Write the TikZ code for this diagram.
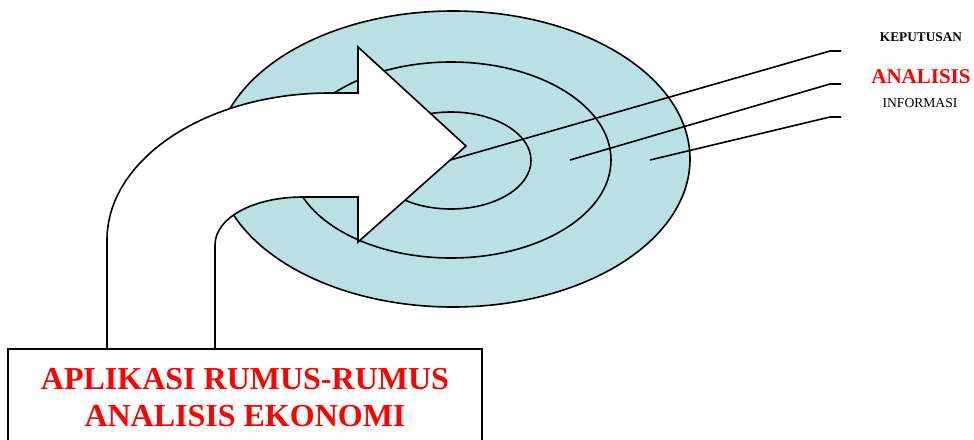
\documentclass[tikz,border=0pt]{standalone}
\usepackage{fontspec}
\setmainfont{Liberation Serif}
\usepackage{tikz}
\usetikzlibrary{positioning, shapes.geometric}
\definecolor{akRing}{HTML}{BBE0E3}
\definecolor{akRed}{HTML}{FF0000}
\tikzset{
  ak-ring/.style={
    ellipse, draw=black, fill=akRing, line width=1.6pt, inner sep=0pt
  },
  ak-arrow/.style={draw=black, fill=white, line width=1.6pt, line join=miter},
  ak-lead/.style={draw=black, line width=1.6pt},
  ak-label/.style={inner sep=0pt, align=center},
  ak-box/.style={
    rectangle, draw=black, fill=white, line width=1.6pt,
    minimum width=474pt, minimum height=97pt, align=center,
    text=akRed, font=\fontsize{32}{37}\selectfont\bfseries
  },
}

\begin{document}
\begin{tikzpicture}[x=1pt, y=-1pt]
  \useasboundingbox (0,0) rectangle (974,439);
  \clip (0,0) rectangle (974,439);

  % rings of the target
  \node[ak-ring, minimum width=474pt, minimum height=296pt] (outer) at (453,159) {};
  \node[ak-ring, minimum width=320pt, minimum height=196pt] (middle) at (451,160) {};
  \node[ak-ring, minimum width=160pt, minimum height=97pt] (inner) at (451,160.5) {};

  % leader points
  \coordinate (kep-start) at (440,163);
  \coordinate (kep-bend) at (830,51);
  \coordinate (kep-end) at (841,51);
  \coordinate (ana-start) at (570,160);
  \coordinate (ana-bend) at (830,84);
  \coordinate (ana-end) at (841,84);
  \coordinate (inf-start) at (650,160);
  \coordinate (inf-bend) at (830,117);
  \coordinate (inf-end) at (841,117);

  \draw[ak-lead] (kep-start) -- (kep-bend) -- (kep-end);
  \draw[ak-lead] (ana-start) -- (ana-bend) -- (ana-end);
  \draw[ak-lead] (inf-start) -- (inf-bend) -- (inf-end);

  % bent arrow
  \path[ak-arrow] (107,360) -- (107,240)
    .. controls (107,158.8) and (206.8,93) .. (330,93)
    -- (358,93) -- (358,47) -- (466,146) -- (358,242) -- (358,197) -- (303,197)
    .. controls (253,197) and (215,218) .. (215,245)
    -- (215,360) -- cycle;

  \node[ak-box] (rumus) at (245,397.5) {APLIKASI RUMUS-RUMUS\\ANALISIS EKONOMI};

  \node[ak-label, font=\fontsize{13.3}{15}\selectfont\bfseries] (keputusan) at (921,37.5) {KEPUTUSAN};
  \node[ak-label, text=akRed, font=\fontsize{21}{24}\selectfont\bfseries] (analisis) at (921,76.5) {ANALISIS};
  \node[ak-label, font=\fontsize{13.6}{15}\selectfont] (informasi) at (920,103) {INFORMASI};
\end{tikzpicture}
\end{document}
